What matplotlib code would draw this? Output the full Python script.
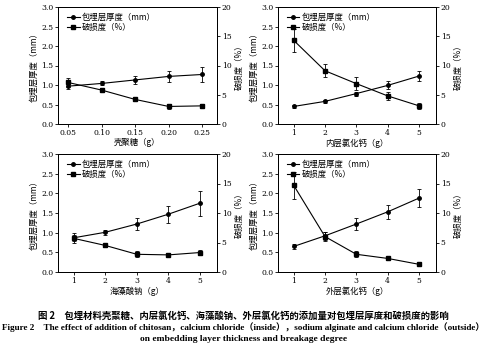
import matplotlib
matplotlib.use("Agg")
import matplotlib.pyplot as plt
from matplotlib.lines import Line2D

plt.rcParams['font.family'] = ['Noto Sans CJK SC', 'DejaVu Sans']
plt.rcParams['axes.unicode_minus'] = False

# Panel data
x1 = [0.05, 0.10, 0.15, 0.20, 0.25]
x2 = [1, 2, 3, 4, 5]

thick1 = [0.97, 1.04, 1.13, 1.22, 1.27]
thick1_err = [0.07, 0.05, 0.10, 0.15, 0.20]
break1 = [7.1, 5.8, 4.2, 3.0, 3.1]
break1_err = [0.7, 0.3, 0.3, 0.4, 0.3]

thick2 = [0.45, 0.58, 0.78, 0.99, 1.23]
thick2_err = [0.05, 0.03, 0.05, 0.10, 0.14]
break2 = [14.3, 9.1, 6.9, 4.8, 3.1]
break2_err = [2.0, 1.1, 1.1, 0.7, 0.5]

thick3 = [0.87, 1.01, 1.22, 1.47, 1.75]
thick3_err = [0.13, 0.07, 0.15, 0.22, 0.32]
break3 = [5.7, 4.5, 3.0, 2.9, 3.3]
break3_err = [0.5, 0.2, 0.5, 0.2, 0.5]

thick4 = [0.65, 0.92, 1.22, 1.53, 1.88]
thick4_err = [0.07, 0.10, 0.15, 0.17, 0.22]
break4 = [14.7, 6.0, 3.0, 2.3, 1.3]
break4_err = [2.3, 0.7, 0.5, 0.2, 0.1]

xlabels = ['壳聚糖（g）', '内层氯化钙（g）', '海藻酸钠（g）', '外层氯化钙（g）']
left_label = '包埋层厚度（mm）'
right_label = '破损度（%）'
legend_labels = ['包埋层厚度（mm）', '破损度（%）']

caption_cn = '图 2　包埋材料壳聚糖、内层氯化钙、海藻酸钠、外层氯化钙的添加量对包埋层厚度和破损度的影响'
caption_en1 = 'Figure 2　The effect of addition of chitosan，calcium chloride（inside），sodium alginate and calcium chloride（outside）'
caption_en2 = 'on embedding layer thickness and breakage degree'

W, H = 487, 353
fig = plt.figure(figsize=(W / 100, H / 100), dpi=100)

def fx(px):
    return px / W

def fy(py):
    return 1 - py / H

panels = [
    (x1, thick1, thick1_err, break1, break1_err, xlabels[0], (58, 7, 217, 124), (0.035, 0.272), [0.05, 0.10, 0.15, 0.20, 0.25], '{:.2f}'),
    (x2, thick2, thick2_err, break2, break2_err, xlabels[1], (278, 7, 436, 124), (0.5, 5.54), [1, 2, 3, 4, 5], '{:d}'),
    (x2, thick3, thick3_err, break3, break3_err, xlabels[2], (58, 154, 217, 272), (0.5, 5.54), [1, 2, 3, 4, 5], '{:d}'),
    (x2, thick4, thick4_err, break4, break4_err, xlabels[3], (278, 154, 436, 272), (0.5, 5.54), [1, 2, 3, 4, 5], '{:d}'),
]

fs_tick = 5.5
fs_label = 6.0
for (xs, th, the, br, bre, xl, box, xlim, xt, fmt) in panels:
    l, t, r, b = box
    ax = fig.add_axes([fx(l), fy(b), fx(r) - fx(l), fy(t) - fy(b)])
    ax2 = ax.twinx()
    ax.errorbar(xs, th, yerr=the, color='black', lw=0.8, marker='o', ms=2.5,
                capsize=1.5, elinewidth=0.6, capthick=0.6)
    ax2.errorbar(xs, br, yerr=bre, color='black', lw=0.8, marker='s', ms=2.5,
                 capsize=1.5, elinewidth=0.6, capthick=0.6)
    ax.set_xlim(*xlim)
    ax.set_ylim(0, 3.0)
    ax2.set_ylim(0, 20)
    ax.set_xticks(xt)
    ax.set_xticklabels([fmt.format(v) for v in xt], fontfamily='DejaVu Serif')
    ax.set_yticks([0, 0.5, 1.0, 1.5, 2.0, 2.5, 3.0])
    ax.set_yticklabels(['0.0', '0.5', '1.0', '1.5', '2.0', '2.5', '3.0'], fontfamily='DejaVu Serif')
    ax2.set_yticks([0, 5, 10, 15, 20])
    ax2.set_yticklabels(['0', '5', '10', '15', '20'], fontfamily='DejaVu Serif')
    for a in (ax, ax2):
        a.tick_params(labelsize=fs_tick, length=2, width=0.6, pad=1.5, direction='out')
        for s in a.spines.values():
            s.set_linewidth(0.7)
    ax.set_xlabel(xl, fontsize=fs_label, labelpad=1)
    ax.set_ylabel(left_label, fontsize=fs_label, labelpad=2)
    ax2.set_ylabel(right_label, fontsize=fs_label, labelpad=2, rotation=90)
    handles = [Line2D([], [], color='black', lw=0.8, marker='o', ms=2.5),
               Line2D([], [], color='black', lw=0.8, marker='s', ms=2.5)]
    ax.legend(handles, legend_labels, loc='upper left', fontsize=fs_label, frameon=False,
              handlelength=1.5, handletextpad=0.3, labelspacing=0.1, borderaxespad=0.3,
              bbox_to_anchor=(0.02, 1.0))

fig.text(0.5, fy(316), caption_cn, ha='center', va='center', fontsize=6.75, fontweight='bold')
fig.text(0.5, fy(327), caption_en1, ha='center', va='center', fontsize=6.55, fontweight='bold',
         fontfamily=['Liberation Serif', 'Noto Sans CJK SC'])
fig.text(0.5, fy(339), caption_en2, ha='center', va='center', fontsize=6.8, fontweight='bold',
         fontfamily=['Liberation Serif', 'Noto Sans CJK SC'])

fig.savefig('out.png', dpi=100)
